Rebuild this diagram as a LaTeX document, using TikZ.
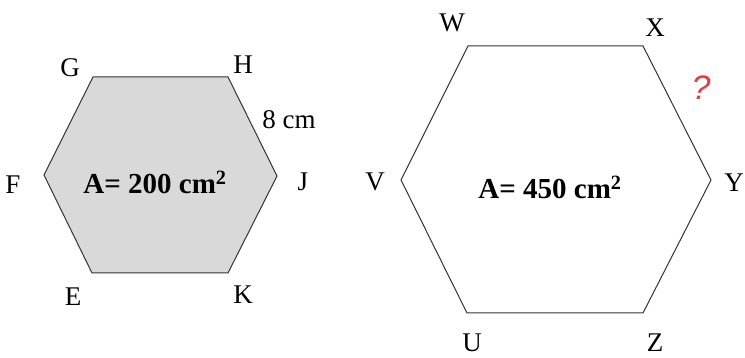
\documentclass[tikz,border=0pt]{standalone}
\usepackage{fontspec}
\setmainfont{Liberation Serif}
\newfontfamily\qfont{Liberation Sans}
\begin{document}
\begin{tikzpicture}[x=1pt,y=-1pt,
  lbl/.style={font=\fontsize{27}{27}\selectfont, inner sep=0pt},
  area/.style={font=\fontsize{29}{29}\selectfont\bfseries, inner sep=0pt},
  hexline/.style={draw=black!80, line width=1pt, line join=miter}]
\useasboundingbox (0,0) rectangle (745,358);
% left hexagon
\coordinate (G) at (93,77);
\coordinate (H) at (228,77);
\coordinate (J) at (277,176);
\coordinate (K) at (228,273);
\coordinate (E) at (92,273);
\coordinate (F) at (44,175);
\filldraw[hexline, fill={rgb,255:red,217;green,217;blue,217}] (G) -- (H) -- (J) -- (K) -- (E) -- (F) -- cycle;
\node[lbl] (lG) at (70,68) {G};
\node[lbl] (lH) at (243,65) {H};
\node[lbl] (lJ) at (303,182) {J};
\node[lbl] (lK) at (243,295) {K};
\node[lbl] (lE) at (73,297) {E};
\node[lbl] (lF) at (13,185) {F};
\node[lbl] (len) at (289,120) {8 cm};
\node[area] (a1) at (155,182) {A= 200 cm\textsuperscript{2}};
% right hexagon
\coordinate (W) at (468,46);
\coordinate (X) at (643,46);
\coordinate (Y) at (711,180);
\coordinate (Z) at (643,313);
\coordinate (U) at (467,313);
\coordinate (V) at (401,180);
\draw[hexline] (W) -- (X) -- (Y) -- (Z) -- (U) -- (V) -- cycle;
\node[lbl] (lW) at (452,23) {W};
\node[lbl] (lX) at (655,28) {X};
\node[lbl] (lY) at (734,183) {Y};
\node[lbl] (lZ) at (655,343) {Z};
\node[lbl] (lU) at (472,343) {U};
\node[lbl] (lV) at (375,182) {V};
\node[font=\fontsize{34}{34}\selectfont\qfont\itshape, text={rgb,255:red,232;green,60;blue,60}, inner sep=0pt] (q) at (701,88) {?};
\node[area] (a2) at (550,187) {A= 450 cm\textsuperscript{2}};
\end{tikzpicture}
\end{document}
